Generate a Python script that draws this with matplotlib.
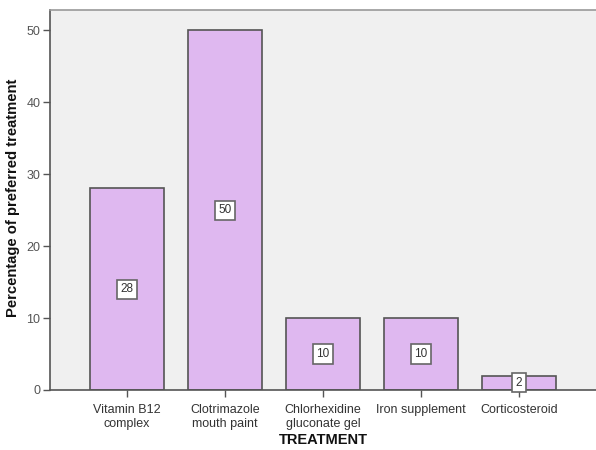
import matplotlib
matplotlib.use("Agg")
import matplotlib.pyplot as plt

categories = ["Vitamin B12\ncomplex", "Clotrimazole\nmouth paint", "Chlorhexidine\ngluconate gel",
              "Iron supplement", "Corticosteroid"]
values = [28, 50, 10, 10, 2]
yticks = [0, 10, 20, 30, 40, 50]

plt.rcParams["font.family"] = ["Liberation Sans", "DejaVu Sans"]

fig = plt.figure(figsize=(5.96, 4.5), dpi=100)
ax = fig.add_axes([50 / 596, 1 - 390 / 450, 546 / 596, 380 / 450])
ax.set_facecolor("#F0F0F0")

x = list(range(len(values)))
ax.bar(x, values, width=0.755, color="#DFB8F0", edgecolor="#555555", linewidth=1.2, zorder=2)

for xi, v in zip(x, values):
    ax.text(xi, v / 2, str(v), ha="center", va="center", fontsize=8.5, color="#333333", zorder=3,
            bbox=dict(boxstyle="square,pad=0.3", facecolor="white", edgecolor="#666666", linewidth=1.2))

ax.set_xlim(-0.786, 4.786)
ax.set_ylim(0, 52.8)
ax.set_yticks(yticks)
ax.set_xticks(x)
ax.set_xticklabels(categories, fontsize=9, color="#333333", linespacing=1.25)
ax.tick_params(axis="y", labelsize=9, labelcolor="#555555", color="#555555", length=5, width=1, pad=2)
ax.tick_params(axis="x", color="#555555", length=5, width=1, pad=5)

for s in ["left", "bottom", "top"]:
    ax.spines[s].set_color("#555555")
    ax.spines[s].set_linewidth(1.2)
ax.spines["top"].set_color("#999999")
ax.spines["right"].set_visible(False)

ax.set_ylabel("Percentage of preferred treatment", fontsize=10.6, fontweight="bold", color="#111111")
ax.set_xlabel("TREATMENT", fontsize=10.5, fontweight="bold", color="#111111")
ax.yaxis.set_label_coords(-0.055, 0.505)
ax.xaxis.set_label_coords(0.5, -0.112)

fig.savefig("out.png", dpi=100, facecolor="white")
